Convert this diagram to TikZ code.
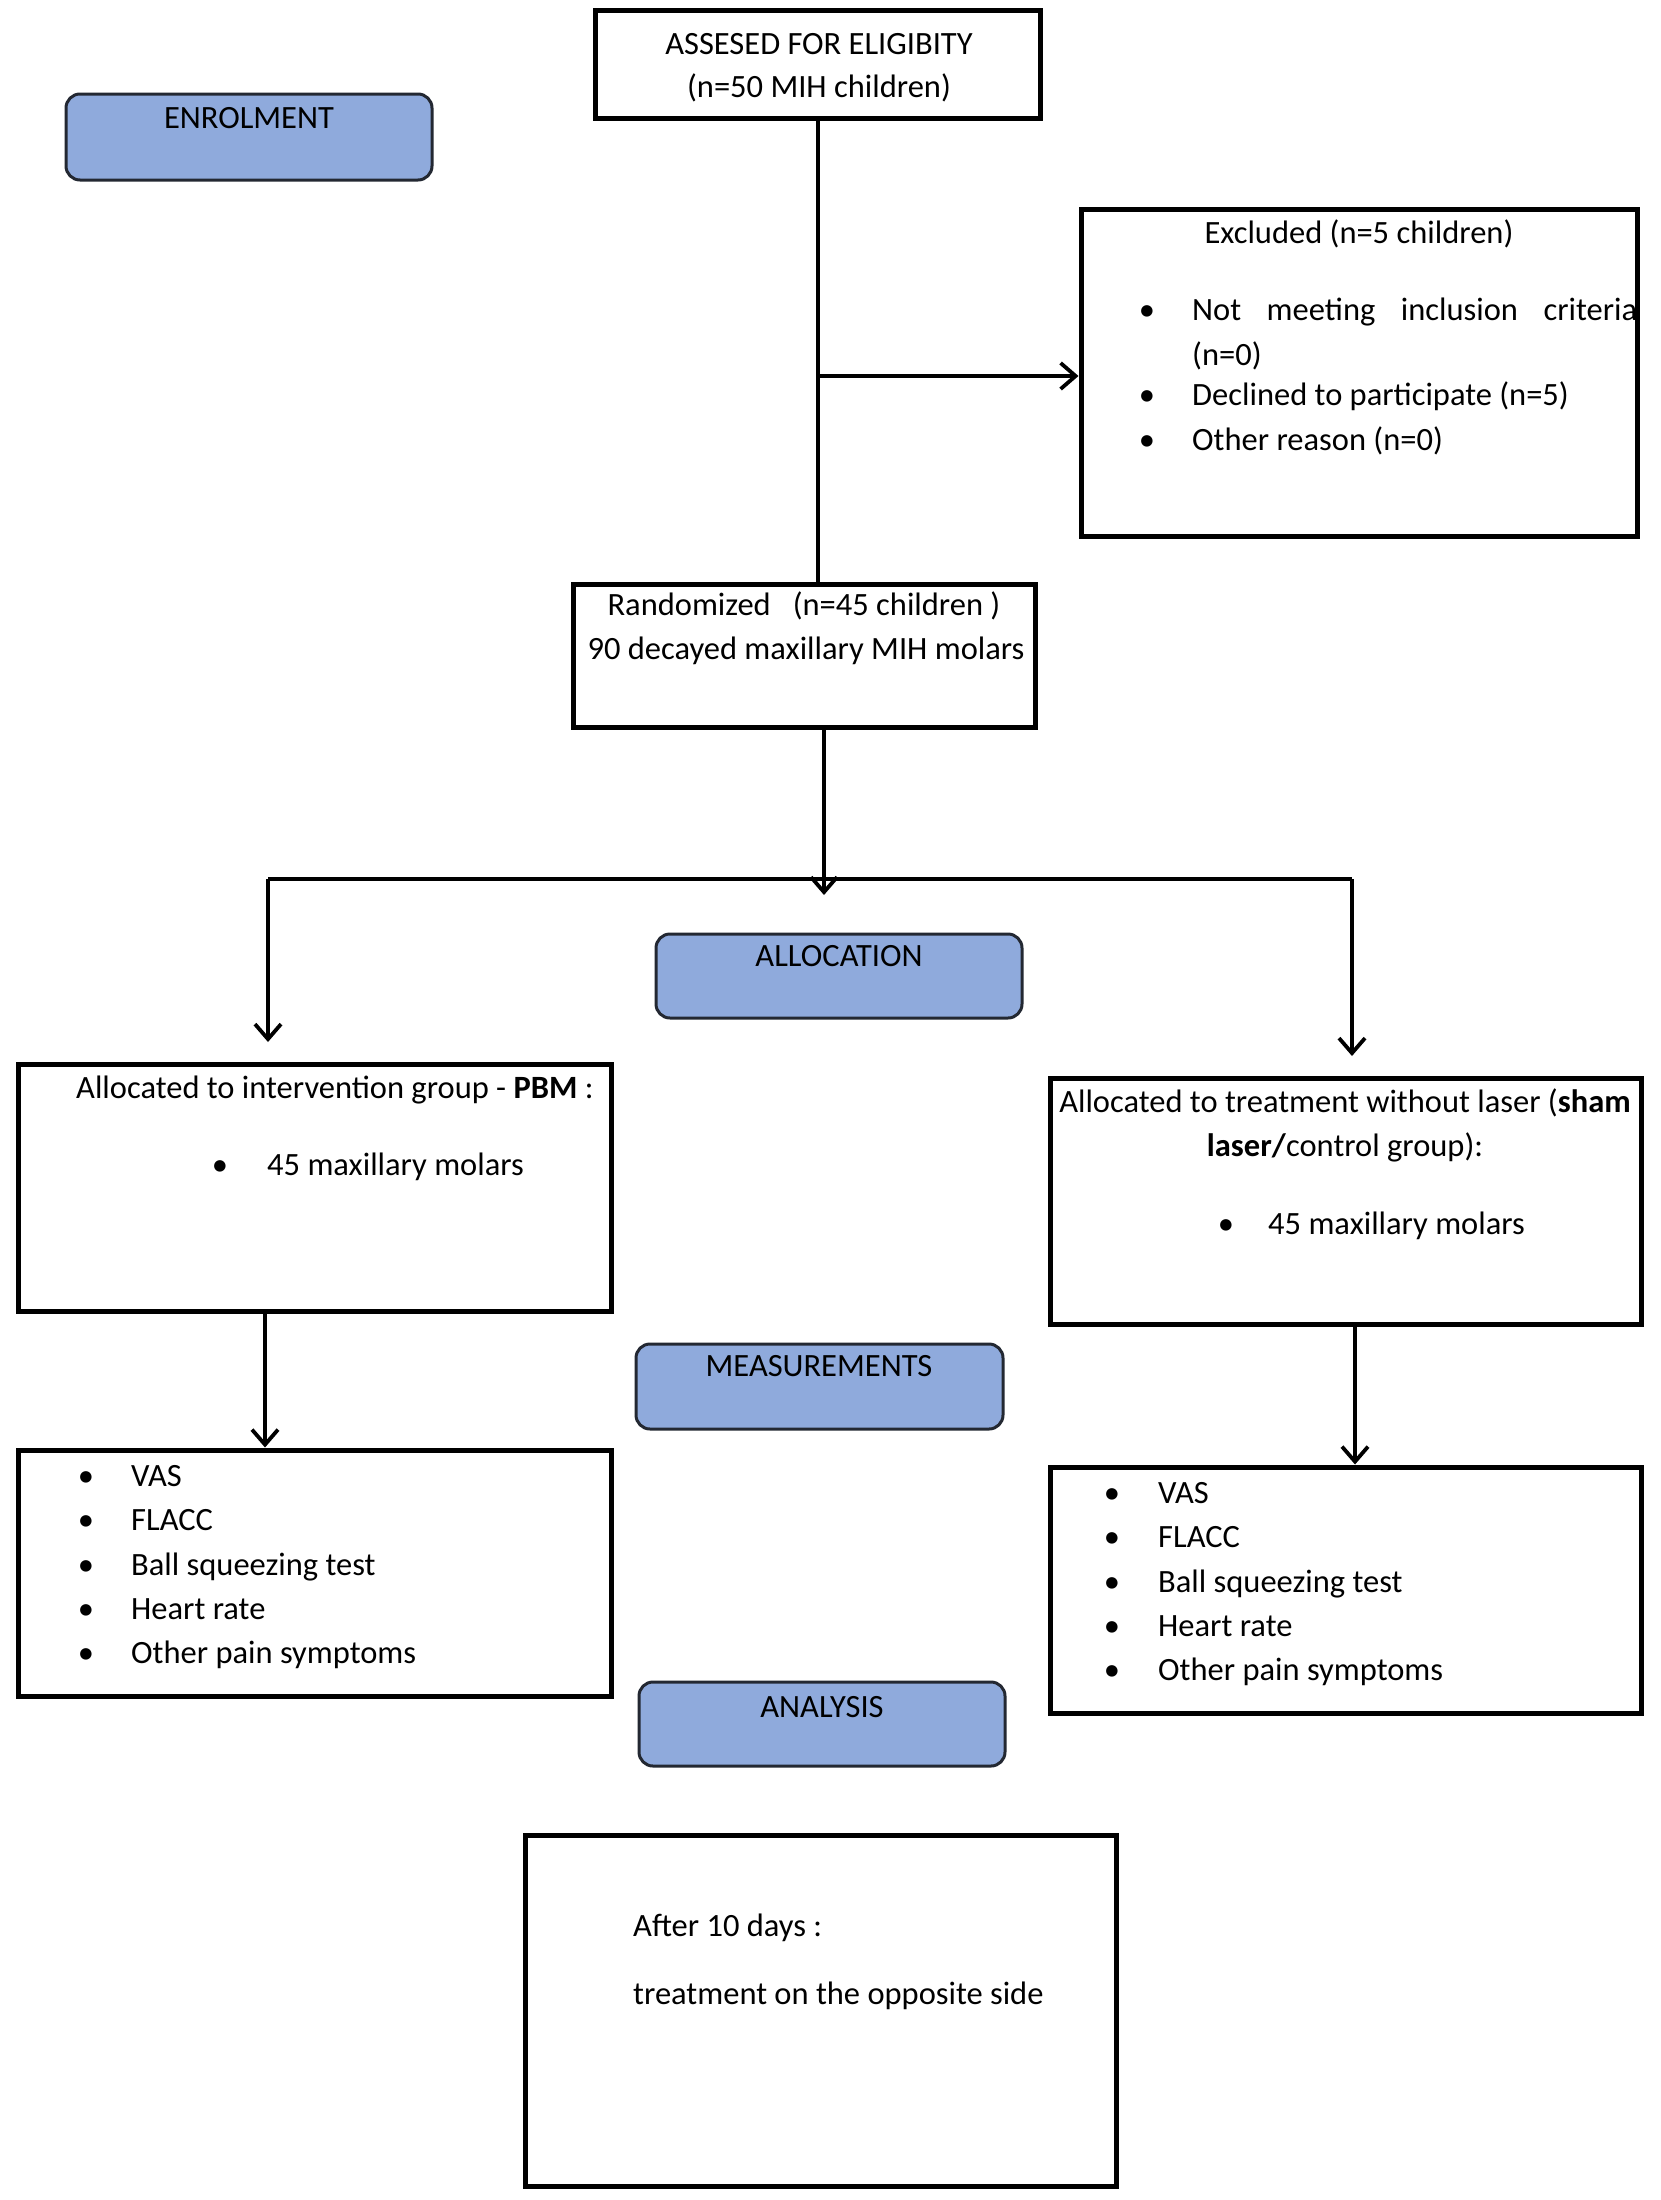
\documentclass[tikz,border=0pt]{standalone}
\usepackage{fontspec}
\setmainfont{Carlito}
\usetikzlibrary{arrows.meta}
\definecolor{stageblue}{RGB}{143,170,220}
\definecolor{stageline}{RGB}{35,40,50}
\newcommand\flowbox[6]{\node[#1, minimum width={(#4)-(#2)}, minimum height={(#5)-(#3)}] (#6) at ({((#2)+(#4))/2},{((#3)+(#5))/2}) {};}
\begin{document}
\begin{tikzpicture}[x=1pt,y=-1pt,
  box/.style={draw=black, line width=5pt, inner sep=0pt},
  stage/.style={draw=stageline, fill=stageblue, line width=3pt, rounded corners=14pt, inner sep=0pt},
  lbl/.style={inner sep=0pt, font=\fontsize{32.5}{45}\selectfont},
  conn/.style={line width=3.8pt},
  arr/.style={conn, -{Straight Barb[length=15pt,width=26pt,line width=3.8pt]}}
]
\useasboundingbox (0,0) rectangle (1661,2200);
\fill[white] (0,0) rectangle (1661,2200);

% stage labels
\flowbox{stage}{66}{94}{432}{180}{enrol}
\flowbox{stage}{656}{934}{1022}{1018}{alloc}
\flowbox{stage}{636}{1344}{1003}{1429}{meas}
\flowbox{stage}{639}{1682}{1005}{1766}{anal}
\node[lbl, anchor=mid] (tEnrol) at (249,126) {ENROLMENT};
\node[lbl, anchor=mid] (tAlloc) at (839,964) {ALLOCATION};
\node[lbl, anchor=mid] (tMeas) at (819,1374) {MEASUREMENTS};
\node[lbl, anchor=mid] (tAnal) at (822,1715) {ANALYSIS};

% boxes
\flowbox{box}{595}{11}{1040}{118}{assess}
\flowbox{box}{1081}{209}{1637}{536}{excl}
\flowbox{box}{573}{584}{1035}{727}{rand}
\flowbox{box}{18}{1064}{611}{1311}{allocL}
\flowbox{box}{1050}{1078}{1641}{1324}{allocR}
\flowbox{box}{18}{1450}{611}{1696}{measL}
\flowbox{box}{1050}{1467}{1641}{1713}{measR}
\flowbox{box}{525}{1835}{1116}{2186}{final}

% assessed
\node[lbl, anchor=mid] (tA1) at (819,52) {ASSESED FOR ELIGIBITY};
\node[lbl, anchor=mid] (tA2) at (819,95) {(n=50 MIH children)};

% excluded
\node[lbl, anchor=mid] (tE0) at (1359,241) {Excluded (n=5 children)};
\node[lbl, anchor=mid] (bE1) at (1147,318) {•};
\node[lbl, anchor=mid west] (tE1) at (1192,318) {\makebox[445pt][s]{Not meeting inclusion criteria}};
\node[lbl, anchor=mid west] (tE1b) at (1192,363) {(n=0)};
\node[lbl, anchor=mid] (bE2) at (1147,403) {•};
\node[lbl, anchor=mid west] (tE2) at (1192,403) {Declined to participate (n=5)};
\node[lbl, anchor=mid] (bE3) at (1147,448) {•};
\node[lbl, anchor=mid west] (tE3) at (1192,448) {Other reason (n=0)};

% randomized
\node[lbl, anchor=mid] (tR1) at (804,613) {Randomized~~~(n=45 children~)};
\node[lbl, anchor=mid] (tR2) at (806,657) {90 decayed maxillary MIH molars};

% allocation left
\node[lbl, anchor=mid west] (tL0) at (76,1096) {Allocated to intervention group - \textbf{PBM} :};
\node[lbl, anchor=mid] (bL1) at (220,1173) {•};
\node[lbl, anchor=mid west] (tL1) at (267,1173) {45 maxillary molars};

% allocation right
\node[lbl, anchor=mid] (tR0a) at (1345,1110) {Allocated to treatment without laser (\textbf{sham}};
\node[lbl, anchor=mid] (tR0b) at (1345,1154) {\textbf{laser/}control group):};
\node[lbl, anchor=mid] (bRr1) at (1226,1232) {•};
\node[lbl, anchor=mid west] (tRr1) at (1268,1232) {45 maxillary molars};

% measurements left
\foreach \t [count=\i] in {VAS,FLACC,Ball squeezing test,Heart rate,Other pain symptoms}{
  \pgfmathsetmacro\yy{1484+44.3*(\i-1)}
  \node[lbl, anchor=mid] (bML\i) at (86,\yy) {•};
  \node[lbl, anchor=mid west] (tML\i) at (131,\yy) {\t};
}
% measurements right
\foreach \t [count=\i] in {VAS,FLACC,Ball squeezing test,Heart rate,Other pain symptoms}{
  \pgfmathsetmacro\yy{1501+44.3*(\i-1)}
  \node[lbl, anchor=mid] (bMR\i) at (1112,\yy) {•};
  \node[lbl, anchor=mid west] (tMR\i) at (1158,\yy) {\t};
}

% final
\node[lbl, anchor=mid west] (tF1) at (633,1934) {After 10 days :};
\node[lbl, anchor=mid west] (tF2) at (633,2002) {treatment on the opposite side};

% connectors
\coordinate (j1) at (818,376);
\draw[conn] (assess.south -| j1) -- (rand.north -| j1);
\draw[arr] (j1) -- (excl.west |- j1);
\coordinate (j2) at (824,895);
\draw[arr] (rand.south -| j2) -- (j2);
\coordinate (bl) at (268,879);
\coordinate (br) at (1352,879);
\draw[conn] (bl) -- (br);
\coordinate (al) at (268,1042);
\coordinate (ar) at (1352,1056);
\draw[arr] (bl) -- (al);
\draw[arr] (br) -- (ar);
\coordinate (cl) at (265,0);
\coordinate (cr) at (1355,0);
\draw[arr] (allocL.south -| cl) -- (measL.north -| cl);
\draw[arr] (allocR.south -| cr) -- (measR.north -| cr);
\end{tikzpicture}
\end{document}
